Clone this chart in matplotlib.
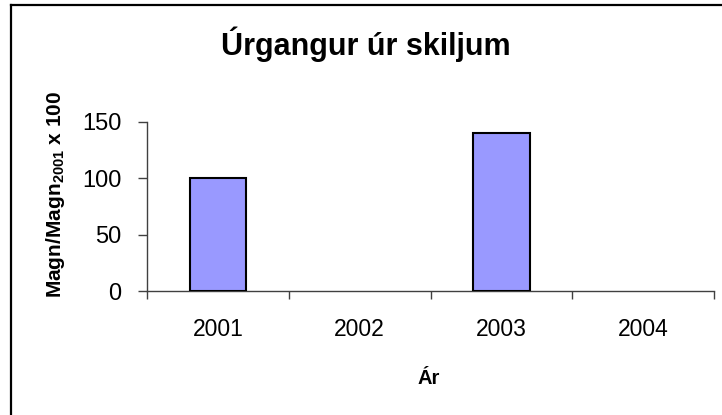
import numpy as np
import matplotlib
matplotlib.use("Agg")
import matplotlib.pyplot as plt
from matplotlib.lines import Line2D

plt.rcParams['font.family'] = ['Liberation Sans', 'DejaVu Sans']
plt.rcParams['mathtext.fontset'] = 'custom'
plt.rcParams['mathtext.rm'] = 'Liberation Sans'
plt.rcParams['mathtext.bf'] = 'Liberation Sans:bold'

# data
years = ['2001', '2002', '2003', '2004']
values = [100, np.nan, 140, np.nan]   # no bars for 2002 and 2004
y_ticks = [0, 50, 100, 150]

fig = plt.figure(figsize=(7.22, 4.15), dpi=100)
ax = fig.add_axes([147 / 722, 124 / 415, (714 - 147) / 722, (291 - 122) / 415])

pos = np.arange(len(years))
vals = np.array(values, dtype=float)
mask = ~np.isnan(vals)
ax.bar(pos[mask], vals[mask], width=0.4, color='#9999FF', edgecolor='black',
       linewidth=1.5, zorder=3)

ax.set_xlim(-0.5, len(years) - 0.5)
ax.set_ylim(0, 150)

# category boundaries as tick marks, labels in the middle
ax.set_xticks(np.arange(len(years) + 1) - 0.5)
ax.set_xticklabels([])
ax.set_xticks(pos, minor=True)
ax.set_xticklabels(years, minor=True, fontsize=16.5)
ax.tick_params(axis='x', which='major', direction='out', length=6, width=1, color='#404040')
ax.tick_params(axis='x', which='minor', length=0, pad=19.5)

ax.set_yticks(y_ticks)
ax.set_yticklabels([str(t) for t in y_ticks], fontsize=17)
ax.tick_params(axis='y', direction='out', length=6.5, width=1, color='#404040', pad=12)

for side in ['top', 'right']:
    ax.spines[side].set_visible(False)
for side in ['left', 'bottom']:
    ax.spines[side].set_color('#404040')
    ax.spines[side].set_linewidth(1)

fig.text(429 / 722, 1 - 378 / 415, 'Ár', ha='center', va='center',
         fontsize=14.5, fontweight='bold')
fig.text(56 / 722, 1 - 194 / 415, r'Magn/Magn$_{\mathbf{2001}}$ x 100', rotation=90,
         ha='center', va='center', fontsize=15, fontweight='bold')

fig.text(366 / 722, 1 - 44 / 415, 'Úrgangur úr skiljum', ha='center', va='center',
         fontsize=22, fontweight='bold')

# chart area border (only left and top visible in the crop)
fig.add_artist(Line2D([10.5 / 722, 10.5 / 722], [0, 1 - 5 / 415], transform=fig.transFigure,
                      color='black', linewidth=1.6))
fig.add_artist(Line2D([10.5 / 722, 1], [1 - 5 / 415, 1 - 5 / 415], transform=fig.transFigure,
                      color='black', linewidth=1.6))

fig.savefig('out.png', dpi=100)
